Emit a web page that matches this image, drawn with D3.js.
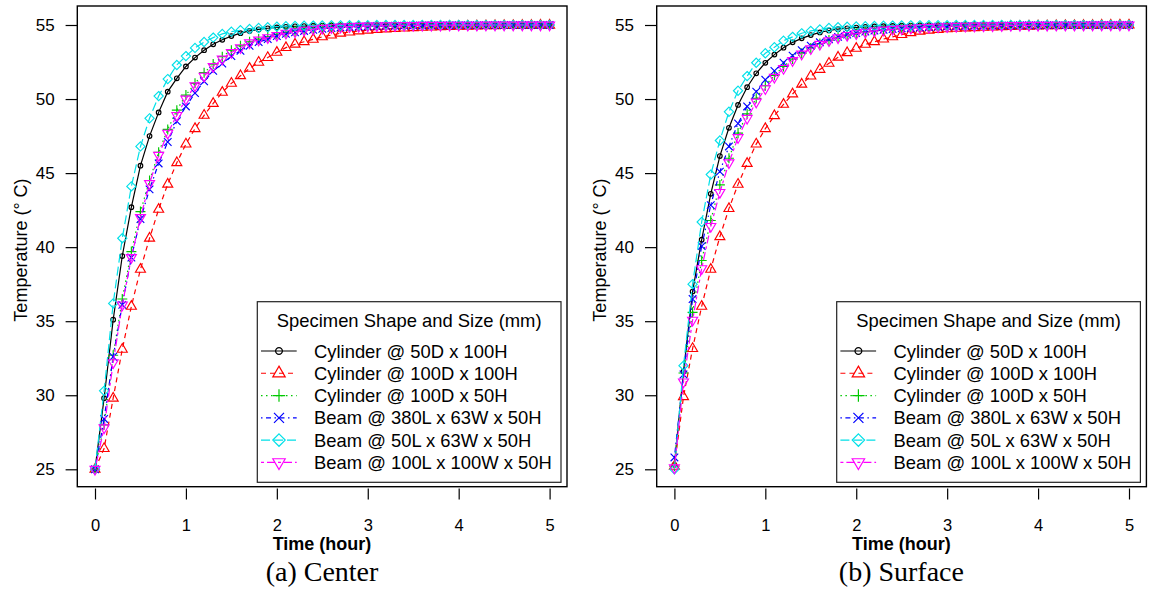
<!DOCTYPE html>
<html><head><meta charset="utf-8">
<script src="https://cdn.jsdelivr.net/npm/d3@7"></script>
<style>
html,body{margin:0;padding:0;background:#fff;}
svg{display:block;}
</style></head>
<body>
<svg id="chart" width="1149" height="590"></svg>
<script>
// ---------- DATA ----------
const timeHours = [0,0.1,0.2,0.3,0.4,0.5,0.6,0.7,0.8,0.9,1.0,1.1,1.2,1.3,1.4,1.5,1.6,1.7,1.8,1.9,2.0,2.1,2.2,2.3,2.4,2.5,2.6,2.7,2.8,2.9,3.0,3.1,3.2,3.3,3.4,3.5,3.6,3.7,3.8,3.9,4.0,4.1,4.2,4.3,4.4,4.5,4.6,4.7,4.8,4.9,5.0];
const seriesNames = ["Cylinder @ 50D x 100H","Cylinder @ 100D x 100H","Cylinder @ 100D x 50H","Beam @ 380L x 63W x 50H","Beam @ 50L x 63W x 50H","Beam @ 100L x 100W x 50H"];
const xTicks = [0,1,2,3,4,5];
const yTicks = [25,30,35,40,45,50,55];
const panelCaptions = ["(a) Center","(b) Surface"];
const legendTitle = "Specimen Shape and Size (mm)";

// Center temperatures
const centerCyl50x100 = [25.0,29.8,35.1,39.4,42.7,45.5,47.5,49.1,50.5,51.4,52.2,52.8,53.3,53.7,54.0,54.25,54.45,54.6,54.7,54.78,54.84,54.88,54.91,54.93,54.95,54.96,54.97,54.98,54.98,54.99,54.99,54.99,55.0,55.0,55.0,55.0,55.0,55.0,55.0,55.0,55.0,55.0,55.0,55.0,55.0,55.0,55.0,55.0,55.0,55.0,55.0];
const centerCyl100x100 = [25.0,26.4,29.8,33.1,36.0,38.5,40.6,42.55,44.25,45.7,46.96,48.0,48.9,49.7,50.45,51.06,51.57,52.07,52.48,52.8,53.15,53.47,53.7,53.87,54.03,54.2,54.32,54.44,54.52,54.6,54.65,54.7,54.73,54.76,54.79,54.82,54.84,54.86,54.88,54.9,54.91,54.92,54.93,54.94,54.95,54.96,54.96,54.97,54.97,54.98,54.98];
const centerCyl100x50 = [25.0,28.0,32.7,36.5,39.7,42.4,44.5,46.4,47.95,49.25,50.27,51.06,51.78,52.36,52.86,53.3,53.6,53.87,54.05,54.2,54.37,54.5,54.6,54.68,54.75,54.8,54.84,54.87,54.9,54.92,54.93,54.94,54.95,54.96,54.97,54.97,54.98,54.98,54.98,54.99,54.99,54.99,54.99,55.0,55.0,55.0,55.0,55.0,55.0,55.0,55.0];
const centerBeam380 = [25.0,28.4,32.6,36.1,39.3,41.9,43.9,45.65,47.1,48.5,49.5,50.4,51.2,51.9,52.4,52.9,53.26,53.6,53.85,54.05,54.25,54.4,54.5,54.6,54.68,54.74,54.79,54.83,54.86,54.89,54.91,54.93,54.94,54.95,54.96,54.97,54.97,54.98,54.98,54.98,54.99,54.99,54.99,54.99,55.0,55.0,55.0,55.0,55.0,55.0,55.0];
const centerBeam50 = [25.0,30.3,36.2,40.6,44.1,46.8,48.7,50.2,51.35,52.3,52.9,53.45,53.85,54.15,54.4,54.55,54.65,54.73,54.8,54.85,54.89,54.92,54.94,54.95,54.96,54.97,54.98,54.98,54.99,54.99,54.99,55.0,55.0,55.0,55.0,55.0,55.0,55.0,55.0,55.0,55.0,55.0,55.0,55.0,55.0,55.0,55.0,55.0,55.0,55.0,55.0];
const centerBeam100 = [25.0,27.8,32.2,36.1,39.3,42.0,44.3,46.2,47.7,48.9,50.0,50.9,51.55,52.2,52.7,53.15,53.47,53.8,53.99,54.15,54.3,54.45,54.55,54.65,54.72,54.78,54.82,54.86,54.89,54.91,54.93,54.94,54.95,54.96,54.97,54.97,54.98,54.98,54.98,54.99,54.99,54.99,54.99,55.0,55.0,55.0,55.0,55.0,55.0,55.0,55.0];

// Surface temperatures
const surfaceCyl50x100 = [25.3,31.6,37.0,40.5,43.6,46.15,48.06,49.6,50.8,51.74,52.45,53.0,53.47,53.83,54.1,54.32,54.5,54.63,54.72,54.78,54.83,54.87,54.9,54.92,54.94,54.95,54.96,54.97,54.98,54.98,54.99,54.99,54.99,55.0,55.0,55.0,55.0,55.0,55.0,55.0,55.0,55.0,55.0,55.0,55.0,55.0,55.0,55.0,55.0,55.0,55.0];
const surfaceCyl100x100 = [25.2,29.9,33.15,36.0,38.5,40.7,42.6,44.24,45.65,46.96,48.0,48.87,49.64,50.34,51.0,51.55,52.0,52.41,52.82,53.13,53.42,53.69,53.87,54.05,54.2,54.35,54.48,54.58,54.65,54.7,54.74,54.77,54.8,54.82,54.84,54.86,54.88,54.9,54.91,54.92,54.93,54.94,54.95,54.96,54.96,54.97,54.97,54.98,54.98,54.99,54.99];
const surfaceCyl100x50 = [25.2,31.5,35.6,39.1,41.8,44.2,46.0,47.7,49.0,50.05,50.9,51.6,52.2,52.7,53.1,53.45,53.75,53.98,54.17,54.32,54.44,54.54,54.61,54.67,54.72,54.76,54.8,54.83,54.86,54.88,54.9,54.92,54.93,54.94,54.95,54.96,54.97,54.97,54.98,54.98,54.98,54.99,54.99,54.99,54.99,55.0,55.0,55.0,55.0,55.0,55.0];
const surfaceBeam380 = [25.8,31.4,36.5,40.07,42.84,45.1,46.8,48.35,49.5,50.5,51.3,51.9,52.45,52.93,53.3,53.6,53.83,54.03,54.2,54.35,54.45,54.55,54.62,54.68,54.73,54.77,54.8,54.83,54.86,54.88,54.9,54.92,54.93,54.94,54.95,54.96,54.97,54.97,54.98,54.98,54.98,54.99,54.99,54.99,54.99,55.0,55.0,55.0,55.0,55.0,55.0];
const surfaceBeam50 = [25.0,32.0,37.5,41.7,44.9,47.2,49.14,50.56,51.55,52.45,53.09,53.5,53.94,54.2,54.44,54.6,54.7,54.8,54.85,54.88,54.9,54.92,54.94,54.95,54.96,54.97,54.98,54.98,54.99,54.99,54.99,55.0,55.0,55.0,55.0,55.0,55.0,55.0,55.0,55.0,55.0,55.0,55.0,55.0,55.0,55.0,55.0,55.0,55.0,55.0,55.0];
const surfaceBeam100 = [25.1,30.9,35.07,38.55,41.4,43.7,45.7,47.4,48.7,49.8,50.7,51.47,52.07,52.6,53.04,53.4,53.7,53.94,54.14,54.3,54.42,54.52,54.6,54.66,54.71,54.75,54.79,54.82,54.85,54.87,54.89,54.91,54.92,54.93,54.94,54.95,54.96,54.97,54.97,54.98,54.98,54.98,54.99,54.99,54.99,54.99,55.0,55.0,55.0,55.0,55.0];

const panelData = [
  [centerCyl50x100, centerCyl100x100, centerCyl100x50, centerBeam380, centerBeam50, centerBeam100],
  [surfaceCyl50x100, surfaceCyl100x100, surfaceCyl100x50, surfaceBeam380, surfaceBeam50, surfaceBeam100]
];

// ---------- STYLE ----------
const colors = ["#000000","#ff0000","#00c800","#0000ff","#00e0e8","#ff00ff"];
const dashes = [null,"5,4","1.5,3.5","1.5,3.5,5,3.5","9,4","3,3,8,3"];
const shapes = ["circle","triUp","plus","cross","diamond","triDown"];
const SANS = "'Liberation Sans', Arial, Helvetica, sans-serif";
const SERIF = "'Liberation Serif', 'Times New Roman', serif";

function markerPath(shape, s) {
  switch (shape) {
    case "circle": return `M${s},0A${s},${s} 0 1,1 ${-s},0A${s},${s} 0 1,1 ${s},0Z`;
    case "triUp": { const h = s * 1.732; return `M0,${-h*2/3}L${s},${h/3}L${-s},${h/3}Z`; }
    case "triDown": { const h = s * 1.732; return `M0,${h*2/3}L${s},${-h/3}L${-s},${-h/3}Z`; }
    case "plus": return `M${-s},0L${s},0M0,${-s}L0,${s}`;
    case "cross": return `M${-s},${-s}L${s},${s}M${-s},${s}L${s},${-s}`;
    case "diamond": return `M0,${-s}L${s},0L0,${s}L${-s},0Z`;
  }
}
const plotSizes = [2.3, 5.0, 5.0, 3.8, 4.6, 5.0];
const legSizes = [3.4, 6.2, 6.2, 5.0, 6.2, 6.2];

const svg = d3.select("#chart");
const box = {left: 77.3, right: 567, top: 6, bottom: 486.7};
const panelOffsets = [0, 579.4];

panelOffsets.forEach((off, p) => {
  const g = svg.append("g").attr("transform", `translate(${off},0)`);
  const x = d3.scaleLinear().domain([0,5]).range([95, 549.6]);
  const y = d3.scaleLinear().domain([25,55]).range([469.3, 25]);

  const line = d3.line().x((d,i)=>x(timeHours[i])).y(d=>y(d));
  panelData[p].forEach((vals, k) => {
    const sg = g.append("g");
    sg.append("path").attr("d", line(vals))
      .attr("fill","none").attr("stroke",colors[k]).attr("stroke-width",1.2)
      .attr("stroke-dasharray", dashes[k]);
    sg.selectAll("path.m").data(vals).join("path").attr("class","m")
      .attr("transform",(d,i)=>`translate(${x(timeHours[i])},${y(d)})`)
      .attr("d", markerPath(shapes[k], plotSizes[k]))
      .attr("fill","none").attr("stroke",colors[k]).attr("stroke-width",1.15);
  });

  g.append("rect").attr("x",box.left).attr("y",box.top)
    .attr("width",box.right-box.left).attr("height",box.bottom-box.top)
    .attr("fill","none").attr("stroke","#000").attr("stroke-width",1.4);

  const xa = g.append("g").attr("transform","translate(0,488.5)")
    .call(d3.axisBottom(x).tickValues(xTicks).tickFormat(d3.format("d")).tickSize(11).tickPadding(19.5).tickSizeOuter(0));
  xa.select(".domain").remove();
  xa.selectAll("line").attr("stroke","#000").attr("stroke-width",1.2);
  xa.selectAll("text").attr("font-family",SANS).attr("font-size",16.5).attr("fill","#000");

  const ya = g.append("g").attr("transform",`translate(${box.left},0)`)
    .call(d3.axisLeft(y).tickValues(yTicks).tickFormat(d3.format("d")).tickSize(11.7).tickPadding(11).tickSizeOuter(0));
  ya.select(".domain").remove();
  ya.selectAll("line").attr("stroke","#000").attr("stroke-width",1.2);
  ya.selectAll("text").attr("font-family",SANS).attr("font-size",17).attr("fill","#000");

  g.append("text").attr("x",322).attr("y",550).attr("text-anchor","middle")
    .attr("font-family",SANS).attr("font-size",18).attr("font-weight","bold").text("Time (hour)");
  g.append("text").attr("transform","translate(26.5,250) rotate(-90)").attr("text-anchor","middle")
    .attr("font-family",SANS).attr("font-size",18).text("Temperature (° C)");

  g.append("text").attr("x",322).attr("y",581).attr("text-anchor","middle")
    .attr("font-family",SERIF).attr("font-size",28).text(panelCaptions[p]);

  const lg = g.append("g");
  lg.append("rect").attr("x",257.3).attr("y",301.7).attr("width",561-257.3).attr("height",482.3-301.7)
    .attr("fill","#fff").attr("stroke","#222").attr("stroke-width",1.2);
  lg.append("text").attr("x",409.2).attr("y",320).attr("dy","0.36em").attr("text-anchor","middle")
    .attr("font-family",SANS).attr("font-size",18.4).text(legendTitle);
  seriesNames.forEach((name,k) => {
    const cy = 351 + k*22.27;
    lg.append("line").attr("x1",261).attr("x2",296.7).attr("y1",cy).attr("y2",cy)
      .attr("stroke",colors[k]).attr("stroke-width",1.2).attr("stroke-dasharray",dashes[k]);
    lg.append("path").attr("transform",`translate(279,${cy})`).attr("d",markerPath(shapes[k],legSizes[k]))
      .attr("fill","none").attr("stroke",colors[k]).attr("stroke-width",1.2);
    lg.append("text").attr("x",314).attr("y",cy).attr("dy","0.36em")
      .attr("font-family",SANS).attr("font-size",18.4).text(name);
  });
});
</script>
</body></html>
